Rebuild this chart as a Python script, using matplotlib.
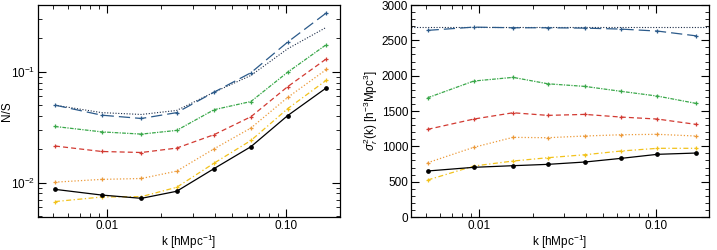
import numpy as np
import matplotlib
matplotlib.use('Agg')
import matplotlib.pyplot as plt
from matplotlib.ticker import FixedLocator, FixedFormatter, MultipleLocator, LogLocator, NullFormatter

# k bins, shared by both panels
k = [0.0051, 0.0093, 0.0155, 0.0244, 0.0395, 0.0634, 0.1016, 0.1675]

# left panel: N/S
ns_blue = [0.050, 0.0406, 0.0379, 0.0428, 0.0655, 0.098, 0.185, 0.340]
ns_blue_dot = [0.050, 0.0428, 0.0412, 0.0448, 0.0655, 0.0926, 0.161, 0.252]
ns_green = [0.0321, 0.0287, 0.0274, 0.0296, 0.0455, 0.0539, 0.099, 0.176]
ns_red = [0.0214, 0.0191, 0.0187, 0.0205, 0.0271, 0.0393, 0.0733, 0.131]
ns_orange = [0.0101, 0.0107, 0.0109, 0.0127, 0.0202, 0.0311, 0.0586, 0.105]
ns_yellow = [0.00675, 0.00742, 0.00748, 0.00908, 0.0150, 0.0240, 0.0464, 0.084]
ns_black = [0.0087, 0.00773, 0.00722, 0.00836, 0.0134, 0.0211, 0.0402, 0.0717]

# right panel: sigma_r^2(k)
sig_level = 2690
sig_blue = [2641, 2687, 2678, 2678, 2673, 2659, 2631, 2564]
sig_green = [1687, 1924, 1976, 1885, 1848, 1778, 1711, 1608]
sig_red = [1240, 1386, 1475, 1438, 1452, 1414, 1386, 1311]
sig_orange = [768, 986, 1127, 1122, 1146, 1164, 1170, 1146]
sig_yellow = [523, 721, 792, 839, 881, 934, 972, 972]
sig_black = [651, 703, 726, 745, 778, 830, 887, 905]

BLUE = '#2b5a8a'
NAVY = '#1c2c48'
GREEN = '#3aa84a'
RED = '#d23a32'
ORANGE = '#ec9a3a'
YELLOW = '#f2c21c'

plt.rcParams['font.family'] = ['Liberation Sans', 'DejaVu Sans']
plt.rcParams['font.size'] = 8.5
plt.rcParams['mathtext.fontset'] = 'custom'
plt.rcParams['mathtext.rm'] = 'Liberation Sans'
plt.rcParams['mathtext.it'] = 'Liberation Sans:italic'


def style_series():
    # (values key, colour, dashes, marker)
    return [
        ('blue', BLUE, (9, 4), '+'),
        ('green', GREEN, (3, 1, 1, 1), '+'),
        ('red', RED, (4, 2.5), '+'),
        ('orange', ORANGE, (1, 1.6), '+'),
        ('yellow', YELLOW, (4, 2, 1, 2), '+'),
    ]


def setup_xaxis(ax):
    ax.set_xscale('log')
    ax.set_xlim(0.0041, 0.199)
    ax.xaxis.set_major_locator(FixedLocator([0.01, 0.1]))
    ax.xaxis.set_major_formatter(FixedFormatter(['0.01', '0.10']))
    ax.xaxis.set_minor_locator(LogLocator(base=10, subs=np.arange(2, 10)))
    ax.xaxis.set_minor_formatter(NullFormatter())
    ax.set_xlabel('k [hMpc$^{-1}$]', labelpad=1)
    ax.tick_params(which='both', direction='in', top=True, right=True, pad=2)
    ax.tick_params(which='major', length=6, width=0.8)
    ax.tick_params(which='minor', length=3, width=0.6)
    for s in ax.spines.values():
        s.set_linewidth(0.9)


def main():
    fig = plt.figure(figsize=(7.17, 2.5), dpi=100)
    ax1 = fig.add_axes([0.053, 0.132, 0.421, 0.848])
    ax2 = fig.add_axes([0.573, 0.132, 0.416, 0.848])

    left = {'blue': ns_blue, 'green': ns_green, 'red': ns_red,
            'orange': ns_orange, 'yellow': ns_yellow}
    right = {'blue': sig_blue, 'green': sig_green, 'red': sig_red,
             'orange': sig_orange, 'yellow': sig_yellow}

    # left panel
    ax1.plot(k, ns_blue_dot, color=NAVY, lw=0.8, dashes=(1, 1.5))
    for key, col, dsh, mk in style_series():
        ax1.plot(k, left[key], color=col, lw=0.9, dashes=dsh, marker=mk,
                 ms=3, mew=0.9)
    ax1.plot(k, ns_black, color='black', lw=0.9, marker='o', ms=2.4)
    ax1.set_yscale('log')
    ax1.set_ylim(0.0049, 0.40)
    ax1.yaxis.set_major_locator(FixedLocator([0.01, 0.1]))
    ax1.yaxis.set_major_formatter(FixedFormatter(['10$^{-2}$', '10$^{-1}$']))
    ax1.yaxis.set_minor_locator(LogLocator(base=10, subs=np.arange(2, 10)))
    ax1.yaxis.set_minor_formatter(NullFormatter())
    ax1.set_ylabel('N/S')
    ax1.yaxis.set_label_coords(-0.082, 0.5)
    setup_xaxis(ax1)

    # right panel
    ax2.axhline(sig_level, color=NAVY, lw=0.8, dashes=(1, 1.5))
    for key, col, dsh, mk in style_series():
        ax2.plot(k, right[key], color=col, lw=0.9, dashes=dsh, marker=mk,
                 ms=3, mew=0.9)
    ax2.plot(k, sig_black, color='black', lw=0.9, marker='o', ms=2.4)
    ax2.set_ylim(0, 3000)
    ax2.yaxis.set_major_locator(MultipleLocator(500))
    ax2.yaxis.set_minor_locator(MultipleLocator(100))
    ax2.set_ylabel(r'$\sigma_r^2$(k) [h$^{-3}$Mpc$^3$]', labelpad=1)
    setup_xaxis(ax2)

    fig.savefig('out.png', dpi=100)


if __name__ == '__main__':
    main()
